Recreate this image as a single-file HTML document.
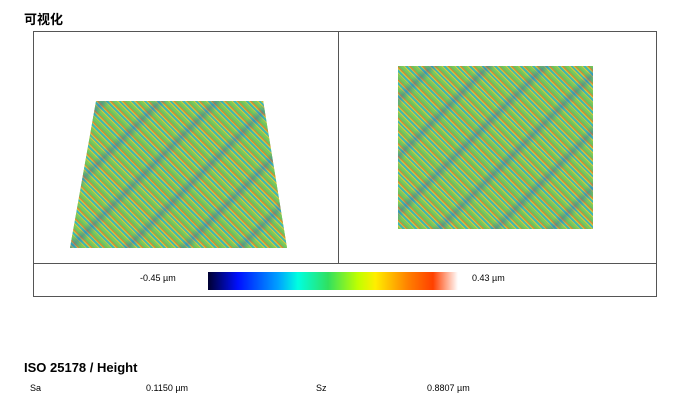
<!DOCTYPE html>
<html><head><meta charset="utf-8"><style>
body{margin:0;width:680px;height:408px;background:#fff;position:relative;font-family:"Liberation Sans","Noto Sans CJK SC",sans-serif;overflow:hidden}
.a{position:absolute}
.tex{background:
repeating-linear-gradient(135deg,rgba(30,80,200,0) 0px,rgba(30,80,200,0) 18px,rgba(30,90,200,.35) 24px,rgba(30,80,200,0) 30px,rgba(30,80,200,0) 40px),
repeating-linear-gradient(45deg,#7cc95a 0 2px,#d8c838 2px 3px,#3fb8b0 3px 5px,#c8d040 5px 6px,#e08030 6px 7px,#6cc060 7px 9px),
#9cc850}
</style></head><body>
<div class="a" style="left:24px;top:9px;font-size:13px;font-weight:bold">可视化</div>
<div class="a" style="left:33px;top:31px;width:622px;height:264px;border:1px solid #555"></div>
<div class="a" style="left:338px;top:31px;width:1px;height:232px;background:#555"></div>
<div class="a" style="left:33px;top:263px;width:624px;height:1px;background:#555"></div>
<div class="a tex" style="left:70px;top:101px;width:217px;height:147px;clip-path:polygon(12% 0,89% 0,100% 100%,0 100%)"></div>
<div class="a tex" style="left:398px;top:66px;width:195px;height:163px"></div>
<div class="a" style="left:140px;top:273px;font-size:9px">-0.45 µm</div>
<div class="a" style="left:208px;top:272px;width:250px;height:18px;background:linear-gradient(90deg,#000030,#0010ff 12%,#00a0ff 28%,#00ffe0 36%,#30e060 48%,#c0ff00 60%,#ffee00 67%,#ff8000 80%,#ff4000 90%,#fff 100%)"></div>
<div class="a" style="left:472px;top:273px;font-size:9px">0.43 µm</div>
<div class="a" style="left:24px;top:360px;font-size:13px;font-weight:bold">ISO 25178 / Height</div>
<div class="a" style="left:30px;top:383px;font-size:9px">Sa</div>
<div class="a" style="left:146px;top:383px;font-size:9px">0.1150 µm</div>
<div class="a" style="left:316px;top:383px;font-size:9px">Sz</div>
<div class="a" style="left:427px;top:383px;font-size:9px">0.8807 µm</div>
</body></html>
